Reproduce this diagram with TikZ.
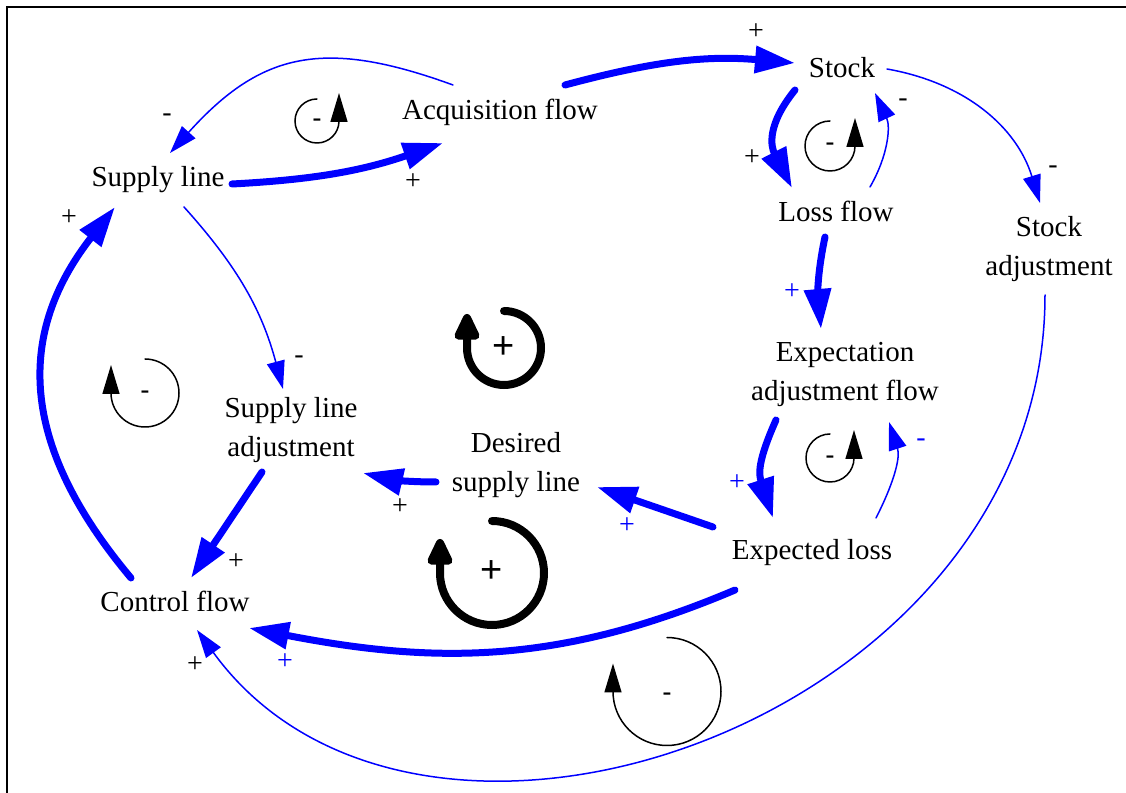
\documentclass[tikz,border=0pt]{standalone}
\usepackage{fontspec}
\setmainfont{Liberation Serif}
\newfontfamily\loopfont{Liberation Sans}
\usetikzlibrary{arrows.meta,positioning}
\begin{document}
\begin{tikzpicture}[x=0.5pt,y=0.5pt,line cap=round]
\tikzstyle{var}=[align=center,inner sep=0pt,font=\fontsize{14.5}{19.5}\selectfont]
\tikzstyle{pol}=[inner sep=0pt,font=\fontsize{14}{14}\selectfont]
\tikzstyle{lsign}=[inner sep=0pt,font=\loopfont\fontsize{14}{14}\selectfont]
\tikzstyle{bsign}=[inner sep=0pt,font=\loopfont\fontsize{19}{19}\selectfont]
\tikzstyle{strong}=[draw=blue,line width=3.5pt,-{Triangle[length=20pt,width=13pt]}]
\tikzstyle{weak}=[draw=blue,line width=0.75pt,-{Triangle[length=14pt,width=9pt]}]
\tikzstyle{bigloop}=[line width=4pt,-{Triangle[length=16pt,width=13.5pt,round]}]
\tikzstyle{smallloop}=[line width=0.75pt,-{Triangle[length=14.5pt,width=8.5pt]}]
\useasboundingbox (0,0) rectangle (1126,793);
\draw[line width=1pt,line cap=butt] (7,0) -- (7,786) -- (1126,786);

\node[var] (stock) at (842,725) {Stock};
\node[var] (acq) at (500,681) {Acquisition flow};
\node[var] (supply) at (158,613) {Supply line};
\node[var] (loss) at (836,582) {Loss flow};
\node[var] (stockadj) at (1049,544) {Stock\\adjustment};
\node[var] (expadj) at (845,419) {Expectation\\adjustment flow};
\node[var] (exploss) at (812,240) {Expected loss};
\node[var] (sla) at (291,363) {Supply line\\adjustment};
\node[var] (desired) at (516,328) {Desired\\supply line};
\node[var] (control) at (175,192) {Control flow};

\draw[strong] ([shift={(74,-4)}]supply.center) to[out=3,in=199] ([shift={(-57,-31)}]acq.center);
\draw[weak] ([shift={(-47,27)}]acq.center) to[out=160,in=48,looseness=1.2] ([shift={(12,27)}]supply.center);
\draw[strong] ([shift={(65,27)}]acq.center) to[out=15,in=175] ([shift={(-47,5)}]stock.center);
\draw[strong] ([shift={(-47,-22)}]stock.center) to[out=231,in=117,looseness=1.2] ([shift={(-44,23)}]loss.center);
\draw[weak] ([shift={(34,24)}]loss.center) to[out=60,in=295] ([shift={(33,-25)}]stock.center);
\draw[weak] ([shift={(45,-1)}]stock.center) to[out=-10,in=107] ([shift={(-9,46)}]stockadj.center);
\draw[strong] ([shift={(-11,-26)}]loss.center) to[out=258,in=95] ([shift={(-24,45)}]expadj.center);
\draw[strong] ([shift={(-69,-46)}]expadj.center) to[out=246,in=108,looseness=1.2] ([shift={(-39,35)}]exploss.center);
\draw[weak] ([shift={(64,35)}]exploss.center) to[out=63,in=288] ([shift={(44,-48)}]expadj.center);
\draw[strong] ([shift={(-99,26)}]exploss.center) -- ([shift={(81,-22)}]desired.center);
\draw[strong] ([shift={(-80,-17)}]desired.center) to[out=180,in=-13] ([shift={(72,-43)}]sla.center);
\draw[weak] ([shift={(26,-27)}]supply.center) to[out=312,in=105] ([shift={(-8,41)}]sla.center);
\draw[strong] ([shift={(-29,-42)}]sla.center) -- ([shift={(16,23)}]control.center);
\draw[strong] ([shift={(-44,23)}]control.center) to[out=130,in=232,looseness=1.15] ([shift={(-43,-27)}]supply.center);
\draw[strong] ([shift={(-77,-37)}]exploss.center) to[out=203,in=349] ([shift={(74,-27)}]control.center);
\draw[weak] ([shift={(-4,-46)}]stockadj.center) .. controls +(0,-425) and +(223,-307) .. ([shift={(22,-29)}]control.center);

\node[pol] (p1) at (413,611) {+};
\node[pol] (p2) at (167,675) {-};
\node[pol] (p3) at (756,761) {+};
\node[pol] (p4) at (752,635) {+};
\node[pol] (p5) at (903,690) {-};
\node[pol] (p6) at (1053,623) {-};
\node[pol,text=blue] (p7) at (792,501) {+};
\node[pol,text=blue] (p8) at (737,310) {+};
\node[pol,text=blue] (p9) at (921,350) {-};
\node[pol,text=blue] (p10) at (627,267) {+};
\node[pol] (p11) at (400,286) {+};
\node[pol] (p12) at (299,433) {-};
\node[pol] (p13) at (236,231) {+};
\node[pol] (p14) at (69,575) {+};
\node[pol,text=blue] (p15) at (285,131) {+};
\node[pol] (p16) at (195,128) {+};

\draw[smallloop] (317,694) arc (90:360:22) -- ++(0,28);
\node[lsign] (r1) at (317,670) {-};
\draw[smallloop] (830,672) arc (90:360:25) -- ++(0,28);
\node[lsign] (r2) at (830,646) {-};
\draw[smallloop] (830,359) arc (90:360:24) -- ++(0,28);
\node[lsign] (r3) at (830,333) {-};
\draw[smallloop] (145,434) arc (90:-180:34) -- ++(0,28);
\node[lsign] (r4) at (145,398) {-};
\draw[bigloop] (504,482) arc (90:-180:37) -- ++(0,34);
\node[bsign] (r5) at (504,445) {+};
\draw[bigloop] (492,272) arc (90:-180:52) -- ++(0,34);
\node[bsign] (r6) at (492,221) {+};
\draw[smallloop] (667,155.5) arc (90:-180:54) -- ++(0,28);
\node[lsign] (r7) at (667,96) {-};
\end{tikzpicture}
\end{document}
